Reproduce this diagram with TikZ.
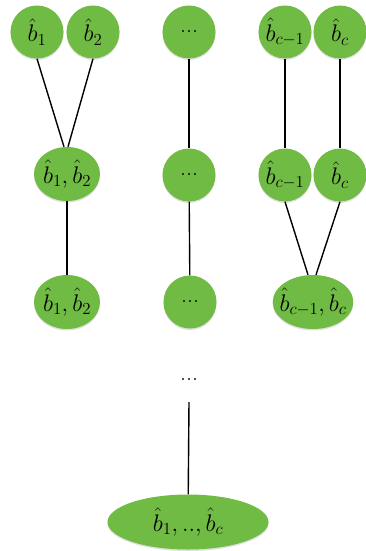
\RequirePackage{fix-cm}
\documentclass[tikz,border=0pt]{standalone}
\usetikzlibrary{shapes.geometric,shadows}
\definecolor{leafgreen}{RGB}{112,187,68}
\begin{document}
\begin{tikzpicture}[x=1pt,y=-1pt,
    blob/.style={fill=leafgreen,draw=none,inner sep=0pt,font=\fontsize{24}{28}\selectfont,
      drop shadow={opacity=0.25,shadow xshift=0pt,shadow yshift=-1.5pt}},
    leaf/.style={blob,circle,minimum size=53pt},
    pair/.style={blob,ellipse,inner xsep=-5pt,minimum width=66pt,minimum height=54pt},
    edge/.style={line width=1.4pt}]
        \useasboundingbox (0,0) rectangle (365,551);

        % first level
        \node[leaf] (b1) at (37,32) {$\hat{b}_1$};
        \node[leaf] (b2) at (93,32) {$\hat{b}_2$};
        \node[leaf] (d1) at (189,32) {...};
        \node[leaf] (bc1) at (285,32) {$\hat{b}_{c-1}$};
        \node[leaf] (bc) at (340,32) {$\hat{b}_c$};

        % second level
        \node[pair] (p12) at (67,174) {$\hat{b}_1,\hat{b}_2$};
        \node[leaf] (d2) at (189,175) {...};
        \node[leaf] (bc1b) at (285,175) {$\hat{b}_{c-1}$};
        \node[leaf] (bcb) at (340,175) {$\hat{b}_c$};

        % third level
        \node[pair] (p12b) at (67,302) {$\hat{b}_1,\hat{b}_2$};
        \node[leaf] (d3) at (190,302) {...};
        \node[pair,minimum width=76pt] (pc) at (313,302) {$\hat{b}_{c-1},\hat{b}_c$};

        \node[font=\fontsize{24}{28}\selectfont] (dots) at (189,380) {...};
        \node[pair,minimum width=161pt,minimum height=55pt] (all) at (188,522) {$\hat{b}_1,..,\hat{b}_c$};

        \draw[edge] (b1.south) -- ([xshift=-3pt]p12.north);
        \draw[edge] (b2.south) -- ([xshift=1pt]p12.north);
        \draw[edge] (d1) -- (d2);
        \draw[edge] (bc1) -- (bc1b);
        \draw[edge] (bc) -- (bcb);

        \draw[edge] (p12) -- (p12b);
        \draw[edge] (d2) -- (d3);
        \draw[edge] (bc1b.south) -- ([xshift=-5pt]pc.north);
        \draw[edge] (bcb.south) -- ([xshift=3pt]pc.north);

        \coordinate (tail) at (189,402);
        \draw[edge] (tail) -- (all);
\end{tikzpicture}
\end{document}
